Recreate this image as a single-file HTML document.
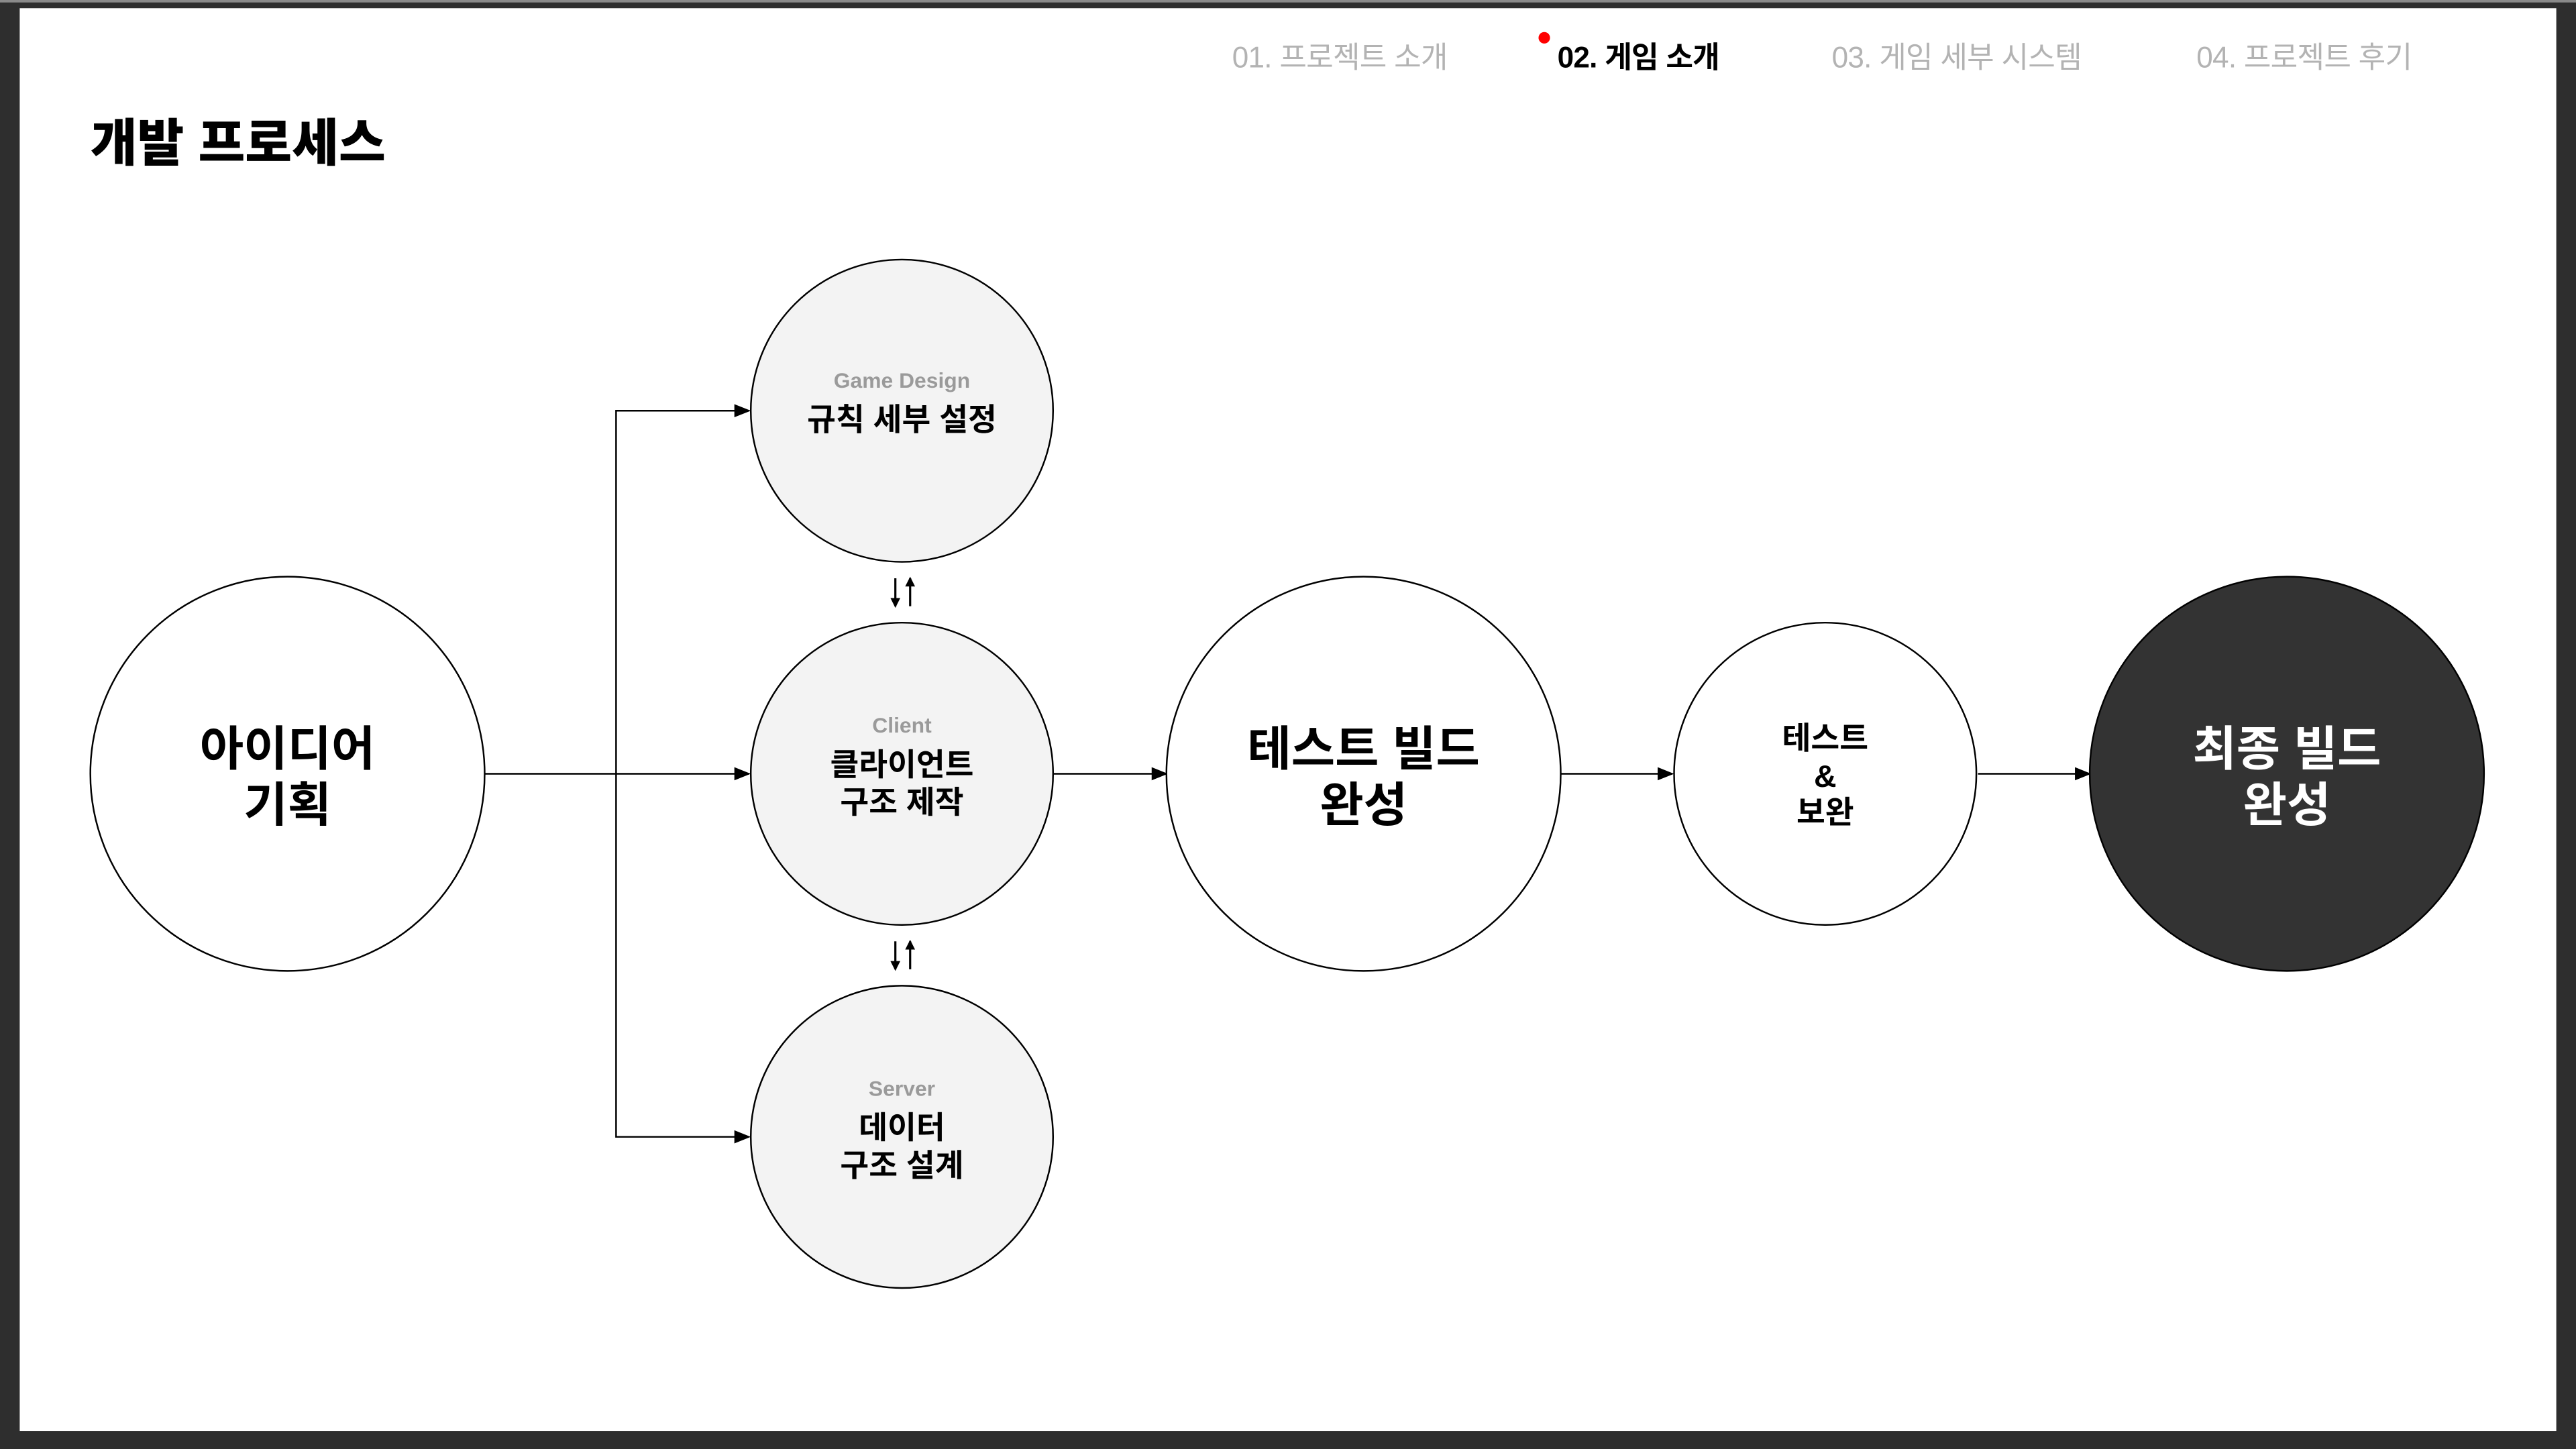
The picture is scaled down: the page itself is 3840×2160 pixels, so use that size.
<!DOCTYPE html>
<html><head><meta charset="utf-8"><style>
html,body{margin:0;padding:0;background:#2e2e2e;}
svg{display:block;}
text{font-family:"Liberation Sans","Noto Sans CJK KR",sans-serif;}
</style></head><body>
<svg width="3840" height="2160" viewBox="0 0 1568 882" preserveAspectRatio="none" xmlns="http://www.w3.org/2000/svg">
<defs><marker id="ar" markerWidth="10" markerHeight="10" refX="9" refY="5" orient="auto" markerUnits="userSpaceOnUse"><path d="M0,1 L10,5 L0,9 Z" fill="#000"/></marker>
<marker id="sa" markerWidth="6" markerHeight="6" refX="5" refY="3" orient="auto" markerUnits="userSpaceOnUse"><path d="M0,0 L6,3 L0,6 Z" fill="#000"/></marker></defs>
<rect x="0" y="0" width="1568" height="882" fill="#2e2e2e"/>
<rect x="0" y="0" width="1568" height="1.5" fill="#8a8a8a"/>
<rect x="12" y="5" width="1544" height="866" fill="#fff"/>
<g font-size="18" fill="#b3b3b3" letter-spacing="-0.3">
<text x="750" y="41">01. 프로젝트 소개</text>
<text x="948" y="41" fill="#000" font-weight="bold">02. 게임 소개</text>
<text x="1115" y="41">03. 게임 세부 시스템</text>
<text x="1337" y="41">04. 프로젝트 후기</text>
</g>
<circle cx="940" cy="23" r="3.5" fill="#f00"/>
<text x="55" y="98" font-size="31" font-weight="900" fill="#000">개발 프로세스</text>
<g stroke="#000" stroke-width="1" fill="none">
<line x1="295" y1="471" x2="456" y2="471" marker-end="url(#ar)"/>
<polyline points="456,250 375,250 375,692 456,692" marker-end="url(#ar)"/>
<line x1="375" y1="250" x2="456" y2="250" marker-end="url(#ar)"/>
<line x1="641" y1="471" x2="710" y2="471" marker-end="url(#ar)"/>
<line x1="950" y1="471" x2="1018" y2="471" marker-end="url(#ar)"/>
<line x1="1204" y1="471" x2="1272" y2="471" marker-end="url(#ar)"/>
</g>
<g stroke="#000" stroke-width="1.3" fill="none">
<line x1="545" y1="352" x2="545" y2="369" marker-end="url(#sa)"/>
<line x1="554" y1="369" x2="554" y2="352" marker-end="url(#sa)"/>
<line x1="545" y1="573" x2="545" y2="590" marker-end="url(#sa)"/>
<line x1="554" y1="590" x2="554" y2="573" marker-end="url(#sa)"/>
</g>
<g stroke="#000" stroke-width="1">
<circle cx="175" cy="471" r="120" fill="#fff"/>
<circle cx="549" cy="250" r="92" fill="#f3f3f3"/>
<circle cx="549" cy="471" r="92" fill="#f3f3f3"/>
<circle cx="549" cy="692" r="92" fill="#f3f3f3"/>
<circle cx="830" cy="471" r="120" fill="#fff"/>
<circle cx="1111" cy="471" r="92" fill="#fff"/>
<circle cx="1392" cy="471" r="120" fill="#333"/>
</g>
<g text-anchor="middle" font-weight="bold">
<g font-size="29"><text x="175" y="466">아이디어</text><text x="175" y="500">기획</text>
<text x="830" y="466">테스트 빌드</text><text x="830" y="500">완성</text>
<text x="1392" y="466" fill="#fff">최종 빌드</text><text x="1392" y="500" fill="#fff">완성</text></g>
<g font-size="13" fill="#9a9a9a"><text x="549" y="236">Game Design</text><text x="549" y="446">Client</text><text x="549" y="667">Server</text></g>
<g font-size="19"><text x="549" y="262">규칙 세부 설정</text>
<text x="549" y="472">클라이언트</text><text x="549" y="495">구조 제작</text>
<text x="549" y="693">데이터</text><text x="549" y="716">구조 설계</text>
<text x="1111" y="456">테스트</text><text x="1111" y="479">&amp;</text><text x="1111" y="501">보완</text></g>
</g>
</svg>
</body></html>
